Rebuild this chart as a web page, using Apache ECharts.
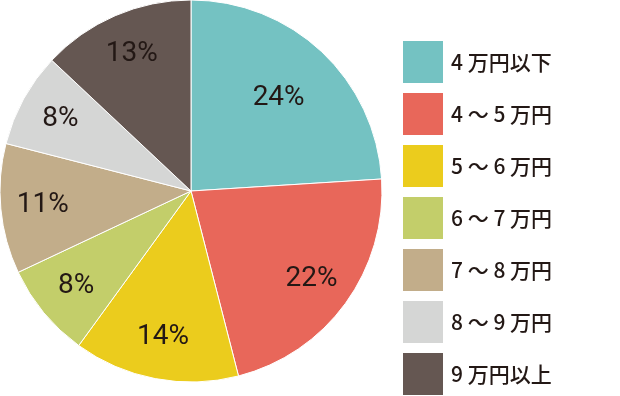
<!DOCTYPE html>
<html>
<head>
<meta charset="utf-8">
<script src="https://cdn.jsdelivr.net/npm/echarts@6/dist/echarts.min.js"></script>
<style>html,body{margin:0;padding:0;background:#fff;}#c{width:620px;height:396px;}</style>
</head>
<body>
<div id="c"></div>
<script>
const categories = ['4 万円以下', '4 ～ 5 万円', '5 ～ 6 万円', '6 ～ 7 万円', '7 ～ 8 万円', '8 ～ 9 万円', '9 万円以上'];
const values = [24, 22, 14, 8, 11, 8, 13];
const colors = ['#74C2C2', '#E8675A', '#EBCC1D', '#C3CE6A', '#C2AD8A', '#D5D6D5', '#655752'];

const chart = echarts.init(document.getElementById('c'), null, {renderer: 'canvas'});
const data = categories.map((n, i) => ({name: n, value: values[i], itemStyle: {color: colors[i]}}));
const labelFont = {
  show: true,
  position: 'inside',
  formatter: '{c}%',
  fontFamily: 'Roboto, sans-serif',
  fontSize: 28,
  color: '#231815'
};
// outer label ring for all slices but the first; inner ring for the first slice
const labelDataOuter = categories.map((n, i) => ({name: n, value: values[i], label: {show: i !== 0}}));
const labelDataInner = categories.map((n, i) => ({name: n, value: values[i], label: {show: i === 0}}));

chart.setOption({
  animation: false,
  legend: {
    orient: 'vertical',
    left: 403,
    top: 41,
    padding: 0,
    itemWidth: 40,
    itemHeight: 42,
    itemGap: 10,
    icon: 'rect',
    selectedMode: false,
    data: categories,
    itemStyle: {borderWidth: 0},
    textStyle: {
      fontFamily: '"Noto Sans CJK JP", "Noto Sans", sans-serif',
      fontSize: 21,
      fontWeight: 500,
      lineHeight: 24,
      color: '#231815',
      padding: [0, 0, 0, 3]
    }
  },
  series: [
    {
      type: 'pie',
      center: [191, 191],
      radius: [0, 191],
      startAngle: 90,
      clockwise: true,
      silent: true,
      label: {show: false},
      labelLine: {show: false},
      itemStyle: {borderColor: '#ffffff', borderWidth: 1},
      data: data
    },
    {
      type: 'pie',
      center: [191, 191],
      radius: [0, 292],
      startAngle: 90,
      clockwise: true,
      silent: true,
      itemStyle: {color: 'rgba(0,0,0,0)'},
      labelLine: {show: false},
      label: labelFont,
      data: labelDataOuter
    },
    {
      type: 'pie',
      center: [191, 191],
      radius: [0, 250],
      startAngle: 90,
      clockwise: true,
      silent: true,
      itemStyle: {color: 'rgba(0,0,0,0)'},
      labelLine: {show: false},
      label: labelFont,
      data: labelDataInner
    }
  ]
});
</script>
</body>
</html>
